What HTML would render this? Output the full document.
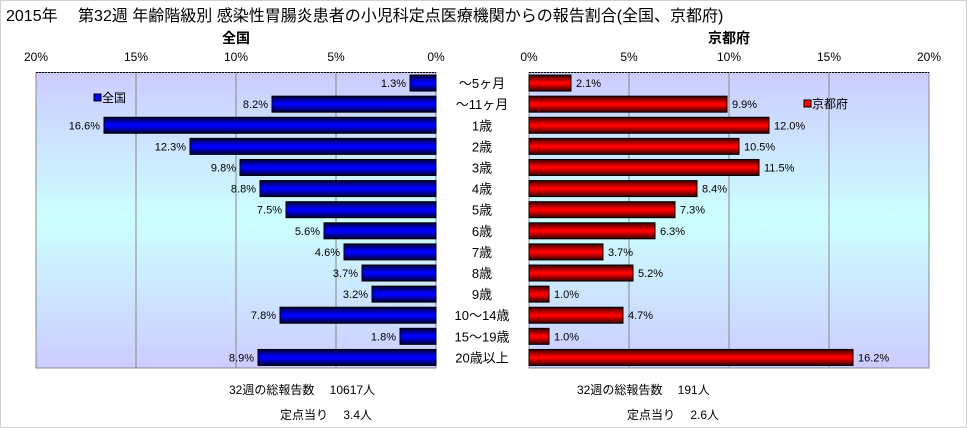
<!DOCTYPE html>
<html><head><meta charset="utf-8"><style>
body{margin:0;background:#fff;}
svg{display:block;font-family:"Liberation Sans","Noto Sans CJK JP",sans-serif;}
</style></head><body>
<svg id="c" width="967" height="428" viewBox="0 0 967 428" xmlns="http://www.w3.org/2000/svg">
<defs>
<linearGradient id="bg" x1="0" y1="0" x2="0" y2="1">
<stop offset="0" stop-color="#ccccff"/><stop offset="0.5" stop-color="#ccffff"/><stop offset="1" stop-color="#ccccff"/></linearGradient>
<linearGradient id="gb" x1="0" y1="0" x2="0" y2="1">
<stop offset="0" stop-color="#000033"/><stop offset="0.45" stop-color="#0000ff"/><stop offset="0.55" stop-color="#0000ff"/><stop offset="1" stop-color="#000033"/></linearGradient>
<linearGradient id="gr" x1="0" y1="0" x2="0" y2="1">
<stop offset="0" stop-color="#330000"/><stop offset="0.45" stop-color="#ff0000"/><stop offset="0.55" stop-color="#ff0000"/><stop offset="1" stop-color="#330000"/></linearGradient>
</defs>
<rect x="0.5" y="0.5" width="966" height="427" fill="#fff" stroke="#d0d0d0"/>
<text x="6" y="21" font-size="16">2015年　 第32週 年齢階級別 感染性胃腸炎患者の小児科定点医療機関からの報告割合(全国、京都府)</text>
<text x="236" y="43" font-size="14" font-weight="bold" text-anchor="middle">全国</text>
<text x="729" y="43" font-size="14" font-weight="bold" text-anchor="middle">京都府</text>
<g id="g"></g>
<text x="229" y="394" font-size="12">32週の総報告数　 10617人</text>
<text x="280" y="419" font-size="12">定点当り　 3.4人</text>
<text x="577" y="394" font-size="12">32週の総報告数　 191人</text>
<text x="627" y="419" font-size="12">定点当り　 2.6人</text>
</svg>
<script>
const categories=["～5ヶ月","～11ヶ月","1歳","2歳","3歳","4歳","5歳","6歳","7歳","8歳","9歳","10～14歳","15～19歳","20歳以上"];
const nationalValues=[1.3,8.2,16.6,12.3,9.8,8.8,7.5,5.6,4.6,3.7,3.2,7.8,1.8,8.9];
const kyotoValues=[2.1,9.9,12.0,10.5,11.5,8.4,7.3,6.3,3.7,5.2,1.0,4.7,1.0,16.2];
const tickValues=[0,5,10,15,20];
const NS="http://www.w3.org/2000/svg";
const g=document.getElementById('g');
const top0=72.5,bot=368,band=(bot-top0)/categories.length;
const xL=v=>436-v*20, xR=v=>529+v*20;
const yC=i=>top0+band*(i+0.5);
function mk(t,a,txt){const e=document.createElementNS(NS,t);for(const k in a)e.setAttribute(k,a[k]);if(txt!=null)e.textContent=txt;g.appendChild(e);return e;}
// plot areas
let e=mk('rect',{x:xL(20),y:top0,width:xL(0)-xL(20),height:bot-top0,fill:'url(#bg)',stroke:'#888'});


e=mk('rect',{x:xR(0),y:top0,width:xR(20)-xR(0),height:bot-top0,fill:'url(#bg)',stroke:'#888'});


tickValues.forEach(v=>{
 e=mk('line',{x1:xL(v),x2:xL(v),y1:top0,y2:bot,stroke:'#888'});
 
 
 e=mk('line',{x1:xR(v),x2:xR(v),y1:top0,y2:bot,stroke:'#888'});
 
 
 e=mk('text',{x:xL(v),y:61,'font-size':12,'text-anchor':'middle'},v+'%');
 
 
 e=mk('text',{x:xR(v),y:61,'font-size':12,'text-anchor':'middle'},v+'%');
 
 
});
e=mk('line',{x1:xL(20),x2:xL(0),y1:top0,y2:top0,stroke:'#000','stroke-dasharray':'2,1'});


e=mk('line',{x1:xR(0),x2:xR(20),y1:top0,y2:top0,stroke:'#000','stroke-dasharray':'2,1'});


categories.forEach((c,i)=>{
 const y=yC(i),h=16;
 const nv=nationalValues[i],kv=kyotoValues[i];
 e=mk('rect',{x:xL(nv),y:y-h/2,width:xL(0)-xL(nv),height:h,fill:'url(#gb)',stroke:'#000'});
 
 
 e=mk('text',{x:xL(nv)-4,y:y+4,'font-size':11,'text-anchor':'end'},nv.toFixed(1)+'%');
 
 
 e=mk('rect',{x:xR(0),y:y-h/2,width:xR(kv)-xR(0),height:h,fill:'url(#gr)',stroke:'#000'});
 
 
 e=mk('text',{x:xR(kv)+5,y:y+4,'font-size':11},kv.toFixed(1)+'%');
 
 
 e=mk('text',{x:482,y:y+5,'font-size':13,'text-anchor':'middle'},c);
 
 
});
e=mk('rect',{x:94,y:94,width:7,height:7,fill:'#0000ff',stroke:'#000'});


e=mk('text',{x:102,y:102,'font-size':12},'全国');


e=mk('rect',{x:804,y:100,width:7,height:7,fill:'#ff0000',stroke:'#000'});


e=mk('text',{x:812,y:108,'font-size':12},'京都府');


</script>
</body></html>
